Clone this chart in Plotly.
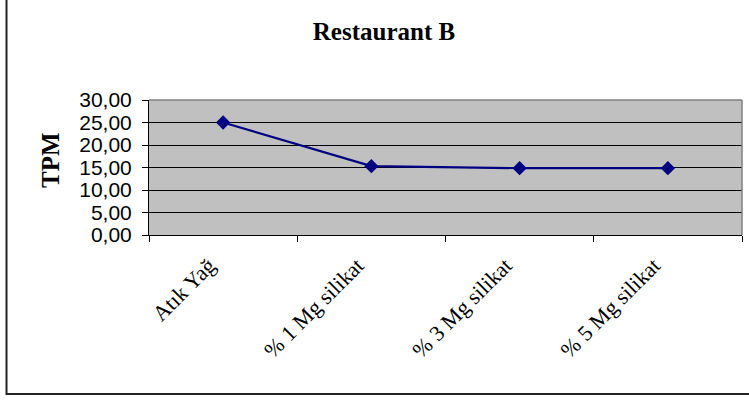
import plotly.graph_objects as go

# Data
categories = ["Atık Yağ", "% 1 Mg silikat", "% 3 Mg silikat", "% 5 Mg silikat"]
tpm_values = [25.0, 15.3, 14.85, 14.85]
y_ticks = [0, 5, 10, 15, 20, 25, 30]

W, H = 749, 403
L, R, T, B = 149, 7, 100, 168
pw, ph = W - L - R, H - T - B

navy = "#000080"

fig = go.Figure()
fig.add_trace(go.Scatter(
    x=categories, y=tpm_values, mode="lines+markers",
    line=dict(color=navy, width=2.2),
    marker=dict(symbol="diamond", size=11, color=navy),
    cliponaxis=False, showlegend=False,
))

def px_x(x):
    return (x - L) / pw

def px_y(y):
    return (H - B - y) / ph

fig.update_layout(
    width=W, height=H,
    margin=dict(l=L, r=R, t=T, b=B, pad=0),
    paper_bgcolor="white",
    plot_bgcolor="#C0C0C0",
    separators=",.",
    title=dict(
        text="<b>Restaurant B</b>",
        font=dict(family="Liberation Serif", size=25, color="black"),
        xref="container", yref="container",
        x=384 / W, y=1 - 31 / H, xanchor="center", yanchor="middle",
    ),
    xaxis=dict(
        type="category", range=[-0.5, 3.5],
        showgrid=False, showline=True, linecolor="black", linewidth=1,
        ticks="outside", tickson="boundaries", ticklen=6, tickcolor="black",
        tickangle=-45,
        tickfont=dict(family="Liberation Serif", size=22, color="black"),
        ticklabelshift=-14, ticklabelstandoff=8,
    ),
    yaxis=dict(
        range=[0, 30], tickvals=y_ticks, tickformat=".2f",
        showgrid=True, gridcolor="black", gridwidth=1, zeroline=False,
        showline=True, linecolor="black", linewidth=1,
        ticks="outside", ticklen=6, tickcolor="black",
        tickfont=dict(family="Liberation Sans", size=21, color="black"),
        ticklabelstandoff=6,
    ),
    annotations=[dict(
        text="<b>TPM</b>", textangle=-90, showarrow=False,
        xref="paper", yref="paper", x=px_x(50), y=px_y(160),
        xanchor="center", yanchor="middle",
        font=dict(family="Liberation Serif", size=25, color="black"),
    )],
    shapes=[
        # plot-area top and right edges
        dict(type="line", xref="paper", yref="paper", x0=0, x1=1, y0=1, y1=1,
             line=dict(color="#808080", width=1.5), layer="above"),
        dict(type="line", xref="paper", yref="paper", x0=1, x1=1, y0=0, y1=1,
             line=dict(color="#808080", width=1.5), layer="above"),
        # chart frame
        dict(type="rect", xref="paper", yref="paper",
             x0=px_x(6.5), x1=px_x(760), y0=px_y(394), y1=px_y(-10),
             line=dict(color="#222222", width=2), layer="below"),
    ],
)

fig.write_html("out.html")
